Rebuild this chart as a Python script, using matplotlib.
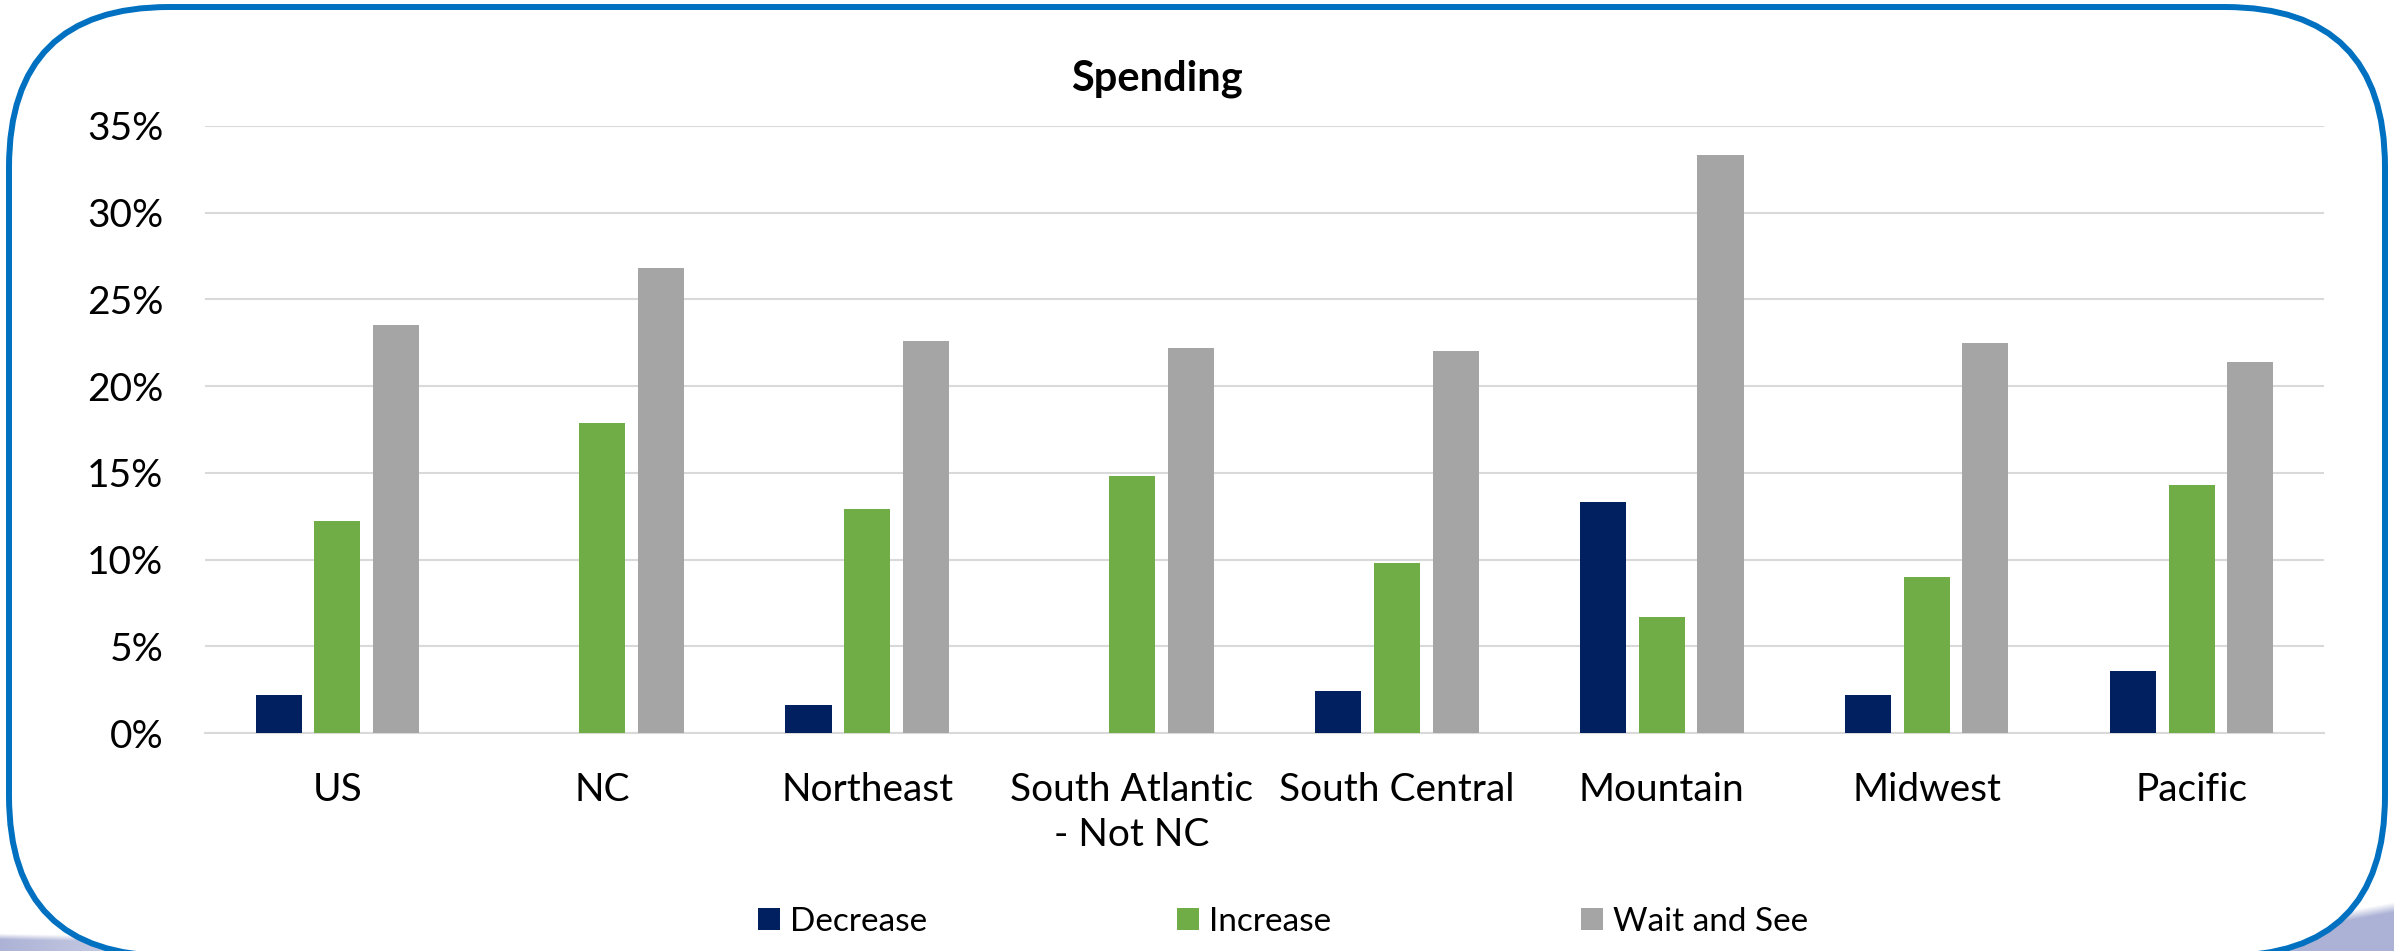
import numpy as np
import matplotlib
matplotlib.use("Agg")
import matplotlib.pyplot as plt
from matplotlib.patches import FancyBboxPatch, Patch
from matplotlib.ticker import PercentFormatter, MultipleLocator

# Spending outlook by region (% of respondents)
regions = ["US", "NC", "Northeast", "South Atlantic\n- Not NC", "South Central",
           "Mountain", "Midwest", "Pacific"]
decrease = [2.2, 0.0, 1.6, 0.0, 2.4, 13.3, 2.2, 3.6]
increase = [12.2, 17.9, 12.9, 14.8, 9.8, 6.7, 9.0, 14.3]
wait_and_see = [23.5, 26.8, 22.6, 22.2, 22.0, 33.3, 22.5, 21.4]
series_names = ["Decrease", "Increase", "Wait and See"]
colors = ["#002060", "#70AD47", "#A5A5A5"]

W, H = 2394, 951
plt.rcParams['font.family'] = ['Lato', 'DejaVu Sans']
fig = plt.figure(figsize=(W / 100, H / 100), dpi=100)

# background layer in pixel units: slide swoosh + rounded frame
bg = fig.add_axes([0, 0, 1, 1], zorder=0)
bg.set_xlim(0, W)
bg.set_ylim(H, 0)
bg.axis('off')

yy, xx = np.mgrid[0:H, 0:W].astype(float)
left_top = 933 + xx * 0.02
a_left = np.clip((yy - left_top) / 6, 0, 1) * np.clip(1 - xx / 380, 0, 1)
right_top = H - (xx - 2120) * 0.18
a_right = np.clip((yy - right_top) / 10, 0, 1) * np.clip((xx - 2100) / 160, 0, 1)
alpha = np.maximum(a_left, a_right)
img = np.ones((H, W, 4))
img[..., 0] = 0.64
img[..., 1] = 0.67
img[..., 2] = 0.82
img[..., 3] = alpha * 0.9
bg.imshow(img, extent=(0, W, H, 0), aspect='auto', interpolation='bilinear', zorder=0)

frame = FancyBboxPatch((9, 7), 2385 - 9, 956 - 7,
                       boxstyle="round,pad=0,rounding_size=160",
                       facecolor="white", edgecolor="#0070C0", linewidth=4.3, zorder=1)
bg.add_patch(frame)

# chart
ax = fig.add_axes([205 / W, 1 - 733 / H, (2324 - 205) / W, (733 - 126) / H], zorder=2)
ax.patch.set_alpha(0)

x = np.arange(len(regions))
step = 0.2215
width = 0.174
for i, (vals, name, c) in enumerate(zip([decrease, increase, wait_and_see], series_names, colors)):
    ax.bar(x + (i - 1) * step, vals, width=width, color=c, label=name, zorder=3)

ax.set_xlim(-0.5, len(regions) - 0.5)
ax.set_ylim(0, 35)
ax.yaxis.set_major_locator(MultipleLocator(5))
ax.yaxis.set_major_formatter(PercentFormatter(xmax=100, decimals=0))
ax.set_xticks(x)
ax.set_xticklabels(regions, linespacing=1.3)

ax.yaxis.grid(True, color="#D9D9D9", linewidth=1.5)
ax.set_axisbelow(True)
for side in ["top", "right", "left"]:
    ax.spines[side].set_visible(False)
ax.spines["bottom"].set_color("#D9D9D9")
ax.spines["bottom"].set_linewidth(1.5)
ax.tick_params(axis='y', length=0, labelsize=28, pad=30)
ax.tick_params(axis='x', length=0, labelsize=28, pad=28)

fig.text(1157 / W, 1 - 90 / H, "Spending", fontsize=30, fontweight='bold',
         ha='center', va='baseline')

handles = [Patch(facecolor=c, label=n) for c, n in zip(colors, series_names)]
fig.legend(handles=handles, loc='center', bbox_to_anchor=(1283 / W, 1 - 922 / H),
           ncol=3, frameon=False, fontsize=24, handlelength=0.65, handleheight=0.65,
           handletextpad=0.3, columnspacing=7.5)

fig.savefig("out.png", dpi=100)
